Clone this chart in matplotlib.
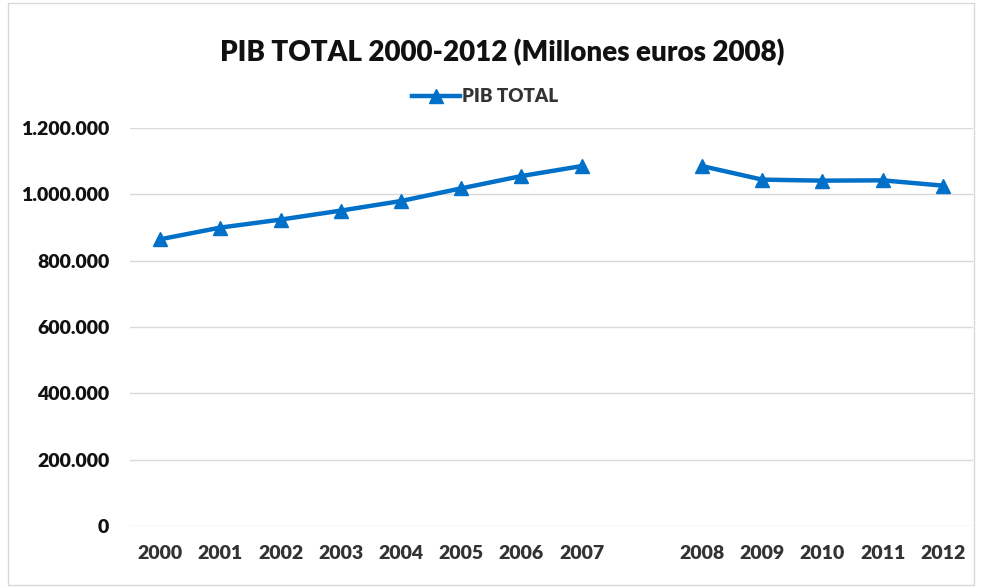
import numpy as np
import matplotlib
matplotlib.use("Agg")
import matplotlib.pyplot as plt
from matplotlib.patches import Rectangle

categories = ['2000', '2001', '2002', '2003', '2004', '2005', '2006', '2007', '',
              '2008', '2009', '2010', '2011', '2012']
pib_total = [864500, 899700, 923800, 950900, 979800, 1018000, 1055100, 1085200, np.nan,
             1085200, 1044300, 1041300, 1042200, 1026200]
y_ticks = [0, 200000, 400000, 600000, 800000, 1000000, 1200000]
y_labels = ['0', '200.000', '400.000', '600.000', '800.000', '1.000.000', '1.200.000']

plt.rcParams['font.family'] = ['Lato', 'DejaVu Sans']

fig = plt.figure(figsize=(9.82, 5.88), dpi=100)
ax = fig.add_axes([130/982, 1-526/588, (973-130)/982, (526-128)/588])

x = np.arange(len(categories))
ax.plot(x, pib_total, color='#0070C8', linewidth=3.2, marker='^', markersize=10,
        label='PIB TOTAL', zorder=3)

ax.set_xlim(-0.5, len(categories) - 0.5)
ax.set_ylim(0, 1200000)
ax.set_yticks(y_ticks)
ax.set_yticklabels(y_labels, fontsize=14, fontweight='heavy', color='#111111')
ax.set_xticks(x)
ax.set_xticklabels(categories, fontsize=14, fontweight='heavy', color='#333333')
ax.tick_params(axis='y', length=0, pad=15)
ax.tick_params(axis='x', length=0, pad=14)
ax.grid(axis='y', color='#d9d9d9', linewidth=1)
ax.set_axisbelow(True)
for s in ax.spines.values():
    s.set_visible(False)

fig.text(502/982, 1-53/588, 'PIB TOTAL 2000-2012 (Millones euros 2008)', ha='center', va='center',
         fontsize=20, fontweight='heavy', color='#111111')
leg = fig.legend(loc='center', bbox_to_anchor=(485/982, 1-97/588), frameon=False,
                 prop={'weight': 'heavy', 'size': 13.5}, handlelength=2.6, handletextpad=0.1,
                 labelcolor='#333333')

fig.patches.append(Rectangle((8/982, 0.005), 1-16/982, 0.99, transform=fig.transFigure,
                             fill=False, edgecolor='#d9d9d9', linewidth=1))

fig.savefig('out.png', dpi=100, facecolor='white')
